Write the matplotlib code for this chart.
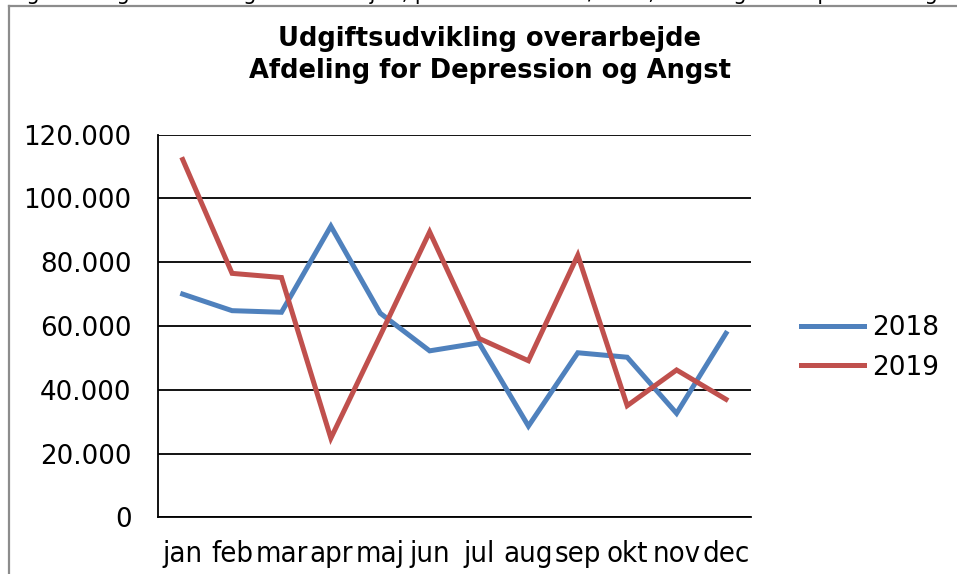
import matplotlib
matplotlib.use("Agg")
import matplotlib.pyplot as plt
from matplotlib.lines import Line2D
from matplotlib.ticker import FuncFormatter

# ── Data ──────────────────────────────────────────────────────────────────────
months = ["jan", "feb", "mar", "apr", "maj", "jun",
          "jul", "aug", "sep", "okt", "nov", "dec"]
v2018 = [70000, 64800, 64300, 91300, 64000, 52200,
         54700, 28600, 51600, 50200, 32600, 57700]
v2019 = [112200, 76500, 75200, 24800, 57000, 89500,
         56100, 49100, 82200, 35000, 46200, 37000]
y_ticks = [0, 20000, 40000, 60000, 80000, 100000, 120000]

C_2018 = "#4F81BD"
C_2019 = "#C0504D"
C_FRAME = "#8c8c8c"

plt.rcParams["font.family"] = "DejaVu Sans"

fig = plt.figure(figsize=(9.57, 5.74), dpi=100, facecolor="white")
ax = fig.add_axes([0.1651, 0.0988, 0.6193, 0.6666])

x = range(len(months))
ax.plot(x, v2018, color=C_2018, lw=3.6, label="2018", solid_joinstyle="miter", zorder=3)
ax.plot(x, v2019, color=C_2019, lw=3.6, label="2019", solid_joinstyle="miter", zorder=3)

ax.set_xlim(-0.5, len(months) - 0.5)
ax.set_ylim(0, 120000)
ax.set_yticks(y_ticks)
ax.yaxis.set_major_formatter(FuncFormatter(lambda v, p: f"{int(v):,}".replace(",", ".")))
ax.set_xticks(list(x))
ax.set_xticklabels(months, fontstretch="condensed")

ax.grid(axis="y", color="black", lw=1.3, zorder=1)
ax.set_axisbelow(True)
for s in ["top", "right"]:
    ax.spines[s].set_visible(False)
ax.spines["left"].set_linewidth(1.3)
ax.spines["bottom"].set_linewidth(1.3)
ax.tick_params(axis="y", length=0, pad=19, labelsize=18.8)
ax.tick_params(axis="x", length=0, pad=16, labelsize=21)

fig.text(0.512, 0.904, "Udgiftsudvikling overarbejde\nAfdeling for Depression og Angst",
         ha="center", va="center", fontsize=18.5, fontweight="bold", linespacing=1.3)

ax.legend(loc="center left", bbox_to_anchor=(1.045, 0.4425), frameon=False,
          fontsize=19, handlelength=2.4, handletextpad=0.3, labelspacing=0.5)

# ramme rundt om diagrammet + afskåret figurtekst
fig.add_artist(Line2D([9 / 957, 9 / 957], [0, 1 - 6 / 574], color=C_FRAME, lw=1.6))
fig.add_artist(Line2D([9 / 957, 1], [1 - 6 / 574, 1 - 6 / 574], color=C_FRAME, lw=1.6))
fig.text(0.01, 1 - 0.5 / 574, "Figur 3 Udgiftsudvikling i overarbejde, per måned 2018/2019, Afdeling for Depression og Angst",
         ha="left", va="baseline", fontsize=15)

fig.savefig("out.png", dpi=100)
